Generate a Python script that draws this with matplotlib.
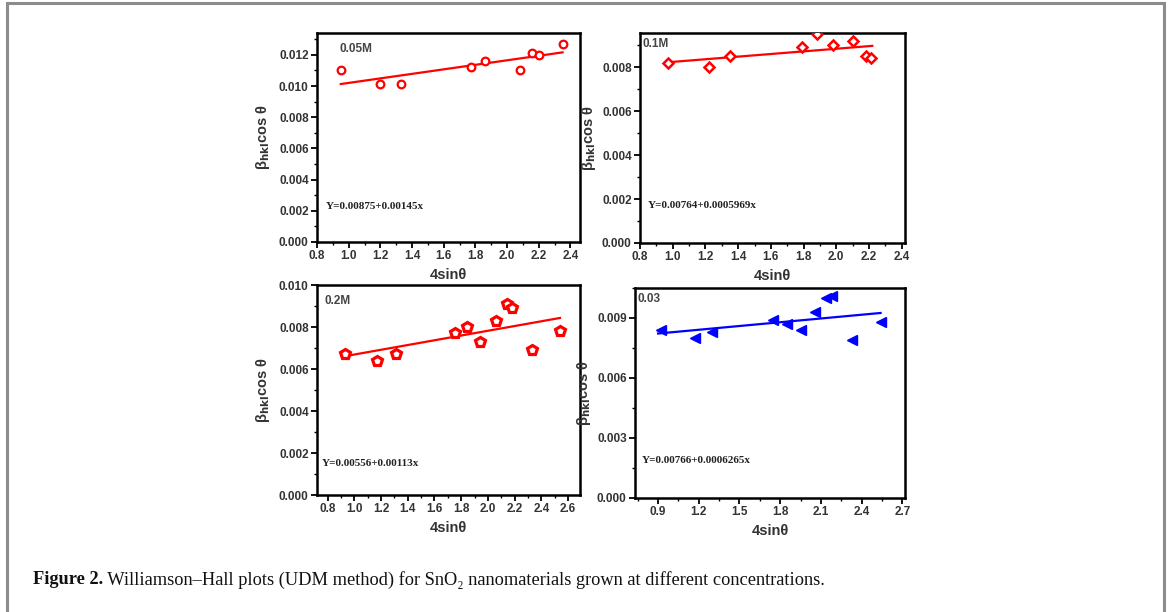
import matplotlib.pyplot as plt
from matplotlib.patches import Rectangle
from matplotlib.ticker import AutoMinorLocator, MultipleLocator

# 0.05M
x_005 = [0.95, 1.20, 1.33, 1.77, 1.86, 2.08, 2.16, 2.20, 2.35]
y_005 = [0.0110, 0.0101, 0.0101, 0.0112, 0.0116, 0.0110, 0.0121, 0.0120, 0.0127]
fit_005 = (0.00875, 0.00145)

# 0.1M
x_01 = [0.97, 1.22, 1.35, 1.79, 1.88, 1.98, 2.10, 2.18, 2.21]
y_01 = [0.0082, 0.0080, 0.0085, 0.0089, 0.0095, 0.0090, 0.0092, 0.0085, 0.0084]
fit_01 = (0.00764, 0.0005969)

# 0.2M
x_02 = [0.93, 1.17, 1.31, 1.75, 1.84, 1.94, 2.06, 2.14, 2.18, 2.33, 2.54]
y_02 = [0.0067, 0.0064, 0.0067, 0.0077, 0.0080, 0.0073, 0.0083, 0.0091, 0.0089, 0.0069, 0.0078]
fit_02 = (0.00556, 0.00113)

# 0.03
x_003 = [0.92, 1.17, 1.30, 1.75, 1.85, 1.95, 2.06, 2.14, 2.18, 2.33, 2.54]
y_003 = [0.0084, 0.0080, 0.0083, 0.0089, 0.0087, 0.0084, 0.0093, 0.0100, 0.0101, 0.0079, 0.0088]
fit_003 = (0.00766, 0.0006265)

plt.rcParams["font.family"] = ["Liberation Sans", "DejaVu Sans"]
plt.rcParams["mathtext.fontset"] = "dejavusans"

W, H = 1170, 612
fig = plt.figure(figsize=(W / 100, H / 100), dpi=100)

# outer frame of the figure box
fig.patches.append(Rectangle((7 / W, -0.05), 1157 / W, 1.05 - 3 / H, transform=fig.transFigure,
                             fill=False, edgecolor="#8c8c8c", linewidth=2.2))


def px_axes(x0, y0, x1, y1):
    return fig.add_axes([x0 / W, 1 - y1 / H, (x1 - x0) / W, (y1 - y0) / H])


def panel(ax, x, y, fit, fit_range, style, label, eq, xlim, ylim, xstep, ystep,
          label_pos, eq_pos, ylabel_x):
    a, b = fit
    xs = [fit_range[0], fit_range[1]]
    ax.plot(xs, [a + b * v for v in xs], color=style["color"], lw=1.6, zorder=2)
    ax.plot(x, y, linestyle="none", clip_on=True, zorder=3, **style["marker"])
    ax.set_xlim(*xlim)
    ax.set_ylim(*ylim)
    ax.xaxis.set_major_locator(MultipleLocator(xstep))
    ax.yaxis.set_major_locator(MultipleLocator(ystep))
    ax.xaxis.set_minor_locator(AutoMinorLocator(2))
    ax.yaxis.set_minor_locator(AutoMinorLocator(2))
    ax.xaxis.set_major_formatter(plt.FormatStrFormatter("%.1f"))
    ax.yaxis.set_major_formatter(plt.FormatStrFormatter("%.3f"))
    for s in ax.spines.values():
        s.set_linewidth(1.8)
    ax.tick_params(which="major", direction="out", length=4, width=1.3, labelsize=8.5, pad=2)
    ax.tick_params(which="minor", direction="out", length=2.5, width=1.0)
    for t in ax.get_xticklabels() + ax.get_yticklabels():
        t.set_fontweight("bold")
        t.set_color("#333333")
    ax.set_xlabel("4sinθ", fontsize=10.5, fontweight="bold", color="#333333", labelpad=4)
    ax.set_ylabel(r"β$_{\mathbf{hkl}}$cos θ", fontsize=10.5, fontweight="bold",
                  color="#333333")
    ax.yaxis.set_label_coords(ylabel_x, 0.5)
    ax.text(label_pos[0], label_pos[1], label, transform=ax.transAxes, fontsize=8.5,
            fontweight="bold", color="#444444", va="top", ha="left")
    ax.text(eq_pos[0], eq_pos[1], eq, transform=ax.transAxes, fontsize=8,
            family="Liberation Serif", fontweight="bold", color="#222222",
            va="center", ha="left")


ax1 = px_axes(317, 33, 580, 242)
panel(ax1, x_005, y_005, fit_005, (0.95, 2.35),
      {"color": "red", "marker": dict(marker="o", ms=5.5, mfc="white", mec="red", mew=1.6)},
      "0.05M", "Y=0.00875+0.00145x", (0.8, 2.46), (0, 0.0134), 0.2, 0.002,
      (0.085, 0.95), (0.035, 0.17), -0.17)

ax2 = px_axes(640, 33, 905, 243)
panel(ax2, x_01, y_01, fit_01, (0.97, 2.22),
      {"color": "red", "marker": dict(marker="D", ms=5, mfc="white", mec="red", mew=1.8)},
      "0.1M", "Y=0.00764+0.0005969x", (0.8, 2.42), (0, 0.00955), 0.2, 0.002,
      (0.01, 0.975), (0.03, 0.18), -0.16)

ax3 = px_axes(317, 285, 580, 495)
panel(ax3, x_02, y_02, fit_02, (0.93, 2.54),
      {"color": "red", "marker": dict(marker="p", ms=7, mfc="white", mec="red", mew=2.3)},
      "0.2M", "Y=0.00556+0.00113x", (0.72, 2.69), (0, 0.010), 0.2, 0.002,
      (0.03, 0.95), (0.02, 0.15), -0.17)

ax4 = px_axes(635, 288, 905, 498)
panel(ax4, x_003, y_003, fit_003, (0.90, 2.54),
      {"color": "blue", "marker": dict(marker="<", ms=7.5, mfc="blue", mec="blue", mew=1)},
      "0.03", "Y=0.00766+0.0006265x", (0.73, 2.72), (0, 0.0105), 0.3, 0.003,
      (0.01, 0.975), (0.025, 0.18), -0.155)

# caption
cap1 = fig.text(33 / W, 1 - 580 / H, "Figure 2.", fontsize=13.2, fontweight="bold",
                family=["Liberation Serif", "DejaVu Serif"], va="center", ha="left",
                color="#111111")
fig.canvas.draw()
fig.text(0, 0, "")
plt.annotate(" Williamson–Hall plots (UDM method) for SnO₂ nanomaterials grown at different concentrations.",
             xy=(1, 0.5), xycoords=cap1, va="center", ha="left", fontsize=13.2,
             family=["Liberation Serif", "DejaVu Serif"], color="#111111",
             annotation_clip=False)

fig.savefig("out.png", dpi=100)
